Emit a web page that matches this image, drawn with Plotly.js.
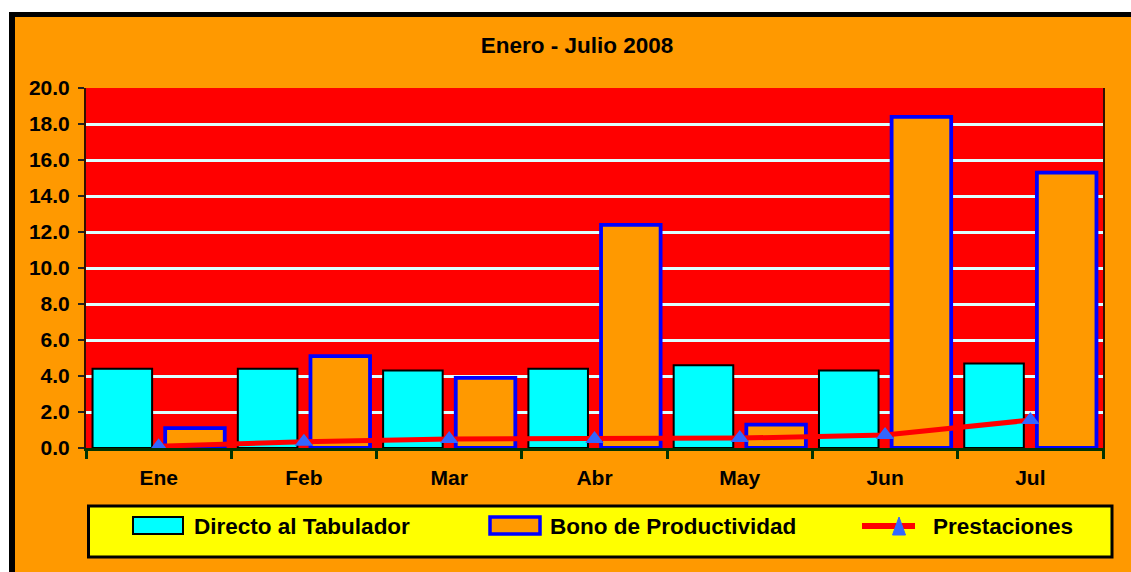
<!DOCTYPE html>
<html>
<head>
<meta charset="utf-8">
<script src="https://cdn.plot.ly/plotly-3.0.1.min.js"></script>
<style>
  html, body { margin: 0; padding: 0; background: #ffffff; width: 1131px; height: 572px; overflow: hidden; }
  #bg { position: absolute; left: 9px; top: 12px; width: 1122px; height: 560px;
        background: #FF9900; border-left: 6px solid #000; border-top: 5px solid #000; box-sizing: border-box; }
  #chart { position: absolute; left: 0; top: 0; width: 1131px; height: 572px; }
</style>
</head>
<body>
<div id="bg"></div>
<div id="chart"></div>
<script>
const categories = ['Ene', 'Feb', 'Mar', 'Abr', 'May', 'Jun', 'Jul'];
const directo = [4.4, 4.4, 4.3, 4.4, 4.6, 4.3, 4.7];
const bono = [1.1, 5.1, 3.9, 12.4, 1.3, 18.4, 15.3];
const prestaciones = [0.1, 0.35, 0.5, 0.5, 0.55, 0.72, 1.55];
const seriesNames = ['Directo al Tabulador', 'Bono de Productividad', 'Prestaciones'];
const chartTitle = 'Enero - Julio 2008';
const yTicks = [0, 2, 4, 6, 8, 10, 12, 14, 16, 18, 20];

const FONT = 'Liberation Sans, Arial, sans-serif';
const W = 1131, H = 572;
const L = 86, R = 1103, T = 88, B = 448;
const px = x => (x - L) / (R - L);
const py = y => (B - y) / (B - T);

const traces = [
  {
    type: 'bar', name: seriesNames[0], x: categories, y: directo,
    marker: { color: '#00FFFF', line: { color: '#000000', width: 2 } },
    showlegend: false
  },
  {
    type: 'bar', name: seriesNames[1], x: categories, y: bono,
    marker: { color: '#FF9900', line: { color: '#0000FF', width: 3.8 } },
    showlegend: false
  },
  {
    type: 'scatter', mode: 'lines+markers', name: seriesNames[2], x: categories, y: prestaciones,
    line: { color: '#FF0000', width: 5 },
    marker: { symbol: 'triangle-up', size: 16, color: '#3366FF' },
    cliponaxis: false,
    showlegend: false
  }
];

const shapes = [
  // legend box
  { type: 'rect', xref: 'paper', yref: 'paper', x0: px(88.5), x1: px(1112), y0: py(506), y1: py(557),
    fillcolor: '#FFFF00', line: { color: '#000000', width: 3 }, layer: 'above' },
  // legend symbols
  { type: 'rect', xref: 'paper', yref: 'paper', x0: px(133), x1: px(183), y0: py(517), y1: py(534),
    fillcolor: '#00FFFF', line: { color: '#000000', width: 2 }, layer: 'above' },
  { type: 'rect', xref: 'paper', yref: 'paper', x0: px(490), x1: px(540), y0: py(517), y1: py(534),
    fillcolor: '#FF9900', line: { color: '#0000FF', width: 3.5 }, layer: 'above' },
  { type: 'line', xref: 'paper', yref: 'paper', x0: px(862), x1: px(915), y0: py(526), y1: py(526),
    line: { color: '#FF0000', width: 6 }, layer: 'above' },
  { type: 'path', xref: 'paper', yref: 'paper', layer: 'above',
    path: 'M ' + px(892.5) + ' ' + py(535) + ' L ' + px(899) + ' ' + py(517) + ' L ' + px(905.5) + ' ' + py(535) + ' Z',
    fillcolor: '#3366FF', line: { color: '#3366FF', width: 1 } }
];

const legendText = [
  { x: 192, label: seriesNames[0] },
  { x: 548, label: seriesNames[1] },
  { x: 931, label: seriesNames[2] }
];
const annotations = legendText.map(d => ({
  xref: 'paper', yref: 'paper', x: px(d.x), y: py(526), xanchor: 'left', yanchor: 'middle',
  text: d.label, showarrow: false,
  font: { family: FONT, size: 22.5, color: '#000000', weight: 700 }
}));

const layout = {
  width: W, height: H,
  margin: { l: L, r: W - R, t: T, b: H - B, pad: 0 },
  paper_bgcolor: 'rgba(0,0,0,0)',
  plot_bgcolor: '#FF0000',
  barmode: 'group',
  bargap: 0,
  bargroupgap: 0.18,
  title: {
    text: chartTitle, x: 577 / W, xref: 'container', xanchor: 'center',
    y: 1 - 45 / H, yref: 'container', yanchor: 'middle',
    font: { family: FONT, size: 22.5, color: '#000000', weight: 700 }
  },
  xaxis: {
    type: 'category',
    tickson: 'boundaries',
    ticks: 'outside', ticklen: 8, tickwidth: 3, tickcolor: '#003300',
    showline: true, linecolor: '#003300', linewidth: 3,
    showgrid: false, zeroline: false,
    ticklabelstandoff: 9,
    tickfont: { family: FONT, size: 21, color: '#000000', weight: 700 },
    fixedrange: true
  },
  yaxis: {
    range: [0, 20],
    tickvals: yTicks,
    ticktext: yTicks.map(v => v.toFixed(1)),
    ticks: 'outside', ticklen: 6, tickwidth: 1.5, tickcolor: '#222222',
    showline: true, linecolor: '#331100', linewidth: 2, mirror: true,
    showgrid: true, gridcolor: '#DDFFFF', gridwidth: 3,
    zeroline: false,
    ticklabelstandoff: 4,
    tickfont: { family: FONT, size: 21, color: '#000000', weight: 700 },
    fixedrange: true
  },
  shapes: shapes,
  annotations: annotations
};

Plotly.newPlot('chart', traces, layout, { staticPlot: true, displayModeBar: false });
</script>
</body>
</html>
